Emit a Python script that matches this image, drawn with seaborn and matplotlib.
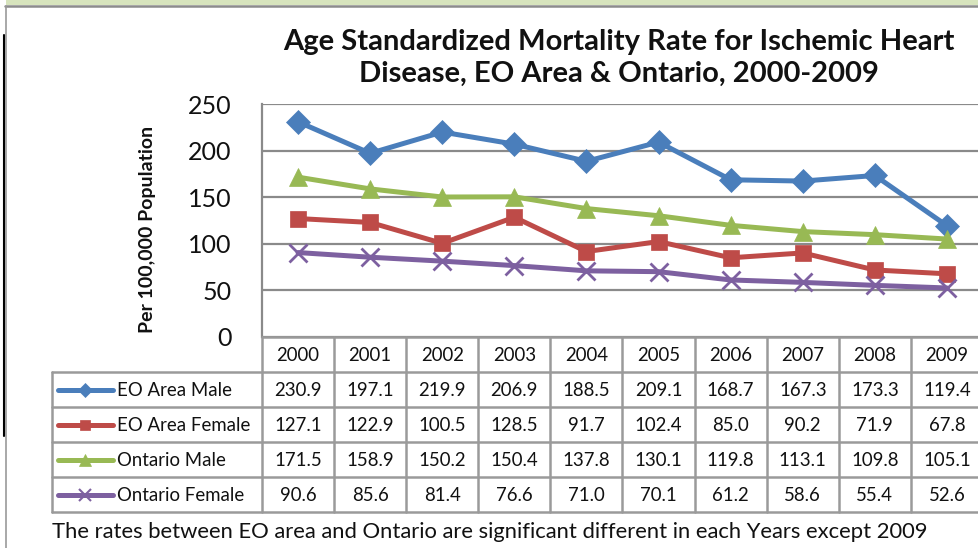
import matplotlib
matplotlib.use("Agg")
import matplotlib.pyplot as plt
import seaborn as sns
import pandas as pd
import numpy as np
from matplotlib.lines import Line2D
from matplotlib.patches import Rectangle

years = ["2000", "2001", "2002", "2003", "2004", "2005", "2006", "2007", "2008", "2009"]
series_names = ["EO Area Male", "EO Area Female", "Ontario Male", "Ontario Female"]
eo_male = [230.9, 197.1, 219.9, 206.9, 188.5, 209.1, 168.7, 167.3, 173.3, 119.4]
eo_female = [127.1, 122.9, 100.5, 128.5, 91.7, 102.4, 85.0, 90.2, 71.9, 67.8]
on_male = [171.5, 158.9, 150.2, 150.4, 137.8, 130.1, 119.8, 113.1, 109.8, 105.1]
on_female = [90.6, 85.6, 81.4, 76.6, 71.0, 70.1, 61.2, 58.6, 55.4, 52.6]
yticks = [0, 50, 100, 150, 200, 250]

title = "Age Standardized Mortality Rate for Ischemic Heart\nDisease, EO Area & Ontario, 2000-2009"
ylabel = "Per 100,000 Population"
footnote = "The rates between EO area and Ontario are significant different in each Years except 2009"

colors = ["#4A7EBB", "#BE4B48", "#98B954", "#7D60A0"]
markers = ["D", "s", "^", "x"]
msizes = [12, 11, 13, 13]

sns.set_theme(style="white")
plt.rcParams["font.family"] = ["Lato", "DejaVu Sans"]

W, H = 979, 548
fig = plt.figure(figsize=(W / 100, H / 100), dpi=100)
fig.patch.set_facecolor("white")

# layout (pixels)
px_left, px_top, px_bottom = 262, 104, 337
colw = 72.1
px_right = px_left + colw * len(years)
ax = fig.add_axes([px_left / W, 1 - px_bottom / H, (px_right - px_left) / W, (px_bottom - px_top) / H])

vals = [eo_male, eo_female, on_male, on_female]
df = pd.DataFrame({
    "year": np.tile(np.arange(len(years)), len(series_names)),
    "value": np.concatenate(vals),
    "series": np.repeat(series_names, len(years)),
})
for name, c, m, ms in zip(series_names, colors, markers, msizes):
    sub = df[df["series"] == name]
    sns.lineplot(data=sub, x="year", y="value", ax=ax, color=c, linewidth=3.6,
                 marker=m, markersize=ms, markeredgecolor=c, markerfacecolor=c,
                 markeredgewidth=(2.0 if m == "x" else 0.5), legend=False, clip_on=False)

ax.set_xlim(-0.5, len(years) - 0.5)
ax.set_ylim(0, 250)
ax.set_yticks(yticks)
ax.set_yticklabels([str(t) for t in yticks], fontsize=18, color="#111111")
ax.set_xticks([])
ax.set_xlabel("")
ax.set_ylabel(ylabel, fontsize=14, fontweight="bold", color="#111111")
ax.yaxis.set_label_coords(-0.147, 0.46)
ax.yaxis.grid(True, color="#8A8A8A", linewidth=1.6)
ax.set_axisbelow(True)
ax.tick_params(axis="y", length=0, pad=22)
for s in ["right", "bottom", "top"]:
    ax.spines[s].set_visible(False)
ax.spines["left"].set_color("#8A8A8A")
ax.spines["left"].set_linewidth(1.6)

# overlays in pixel coordinates for frame and table
ov = fig.add_axes([0, 0, 1, 1], zorder=-1)
ov.set_xlim(0, W)
ov.set_ylim(H, 0)
ov.axis("off")
ov2 = fig.add_axes([0, 0, 1, 1], zorder=5)
ov2.set_xlim(0, W)
ov2.set_ylim(H, 0)
ov2.axis("off")
ov2.patch.set_alpha(0)

# top band and frame
ov.add_patch(Rectangle((6, 0), W, 5, facecolor="#D7E4BD", edgecolor="none"))
ov.plot([5, W], [5.5, 5.5], color="#8C8C8C", linewidth=1.8)
ov.plot([6, 6], [5.5, H], color="#9A9A9A", linewidth=1.2)
ov.plot([4, 4], [35, 436], color="#000000", linewidth=1.5)

fig.text(619 / W, 1 - 58 / H, title, ha="center", va="center", fontsize=21,
         fontweight="bold", color="#111111", linespacing=1.3)

# table
gc = "#9A9A9A"
glw = 1.8
row_h = 35
hdr_top = px_bottom
rows_top = hdr_top + row_h
rows_bottom = rows_top + row_h * len(series_names)
leg_left = 52
ov2.plot([px_left, px_right], [hdr_top, hdr_top], color=gc, lw=glw)
for k in range(len(years) + 1):
    x = px_left + colw * k
    ov2.plot([x, x], [hdr_top, rows_bottom], color=gc, lw=glw)
for j in range(len(series_names) + 1):
    y = rows_top + row_h * j
    ov2.plot([leg_left, px_right], [y, y], color=gc, lw=glw)
ov2.plot([leg_left, leg_left], [rows_top, rows_bottom], color=gc, lw=glw)

fs_tab = 13.4
for k, yr in enumerate(years):
    ov2.text(px_left + colw * (k + 0.5), hdr_top + row_h / 2 + 1, yr, ha="center", va="center",
             fontsize=fs_tab, color="#111111")
for j, (name, v, c, m, ms) in enumerate(zip(series_names, vals, colors, markers, msizes)):
    yc = rows_top + row_h * (j + 0.5)
    ov2.add_line(Line2D([58, 113], [yc, yc], color=c, lw=3.6, solid_capstyle="round"))
    ov2.add_line(Line2D([85.5], [yc], color=c, marker=m, markersize=ms * 0.62,
                        markeredgecolor=c, markerfacecolor=c,
                        markeredgewidth=(1.5 if m == "x" else 0.5)))
    ov2.text(117, yc + 1, name, ha="left", va="center", fontsize=fs_tab, color="#111111")
    for k, val in enumerate(v):
        ov2.text(px_left + colw * (k + 0.5), yc + 1, f"{val:.1f}", ha="center", va="center",
                 fontsize=fs_tab, color="#111111")

fig.text(52 / W, 1 - 532 / H, footnote, ha="left", va="center", fontsize=15.8, color="#111111")

fig.savefig("out.png", dpi=100)
